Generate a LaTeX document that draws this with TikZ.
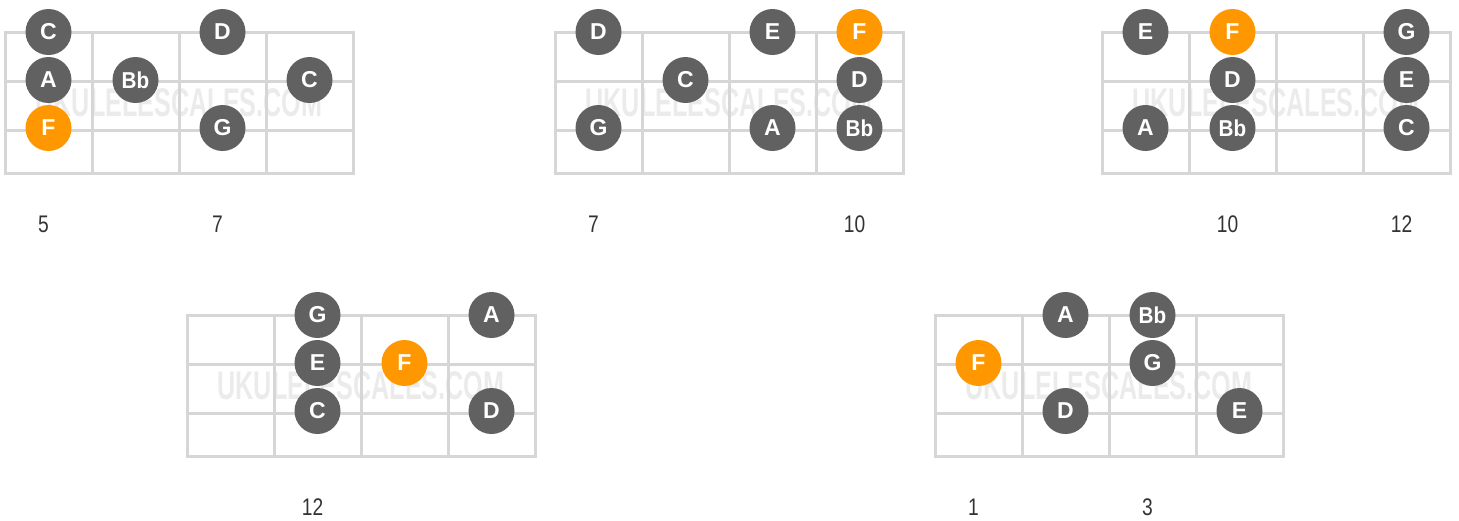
\documentclass[tikz,border=0pt]{standalone}
\usepackage{fontspec}
\setmainfont{Liberation Sans}
\usetikzlibrary{positioning}

\definecolor{notegray}{HTML}{616161}
\definecolor{rootorange}{HTML}{FF9800}
\definecolor{fretgray}{HTML}{D6D6D6}
\definecolor{markgray}{HTML}{EBEBEB}
\definecolor{labelgray}{HTML}{333333}

% one empty fretboard: 4 strings, 4 frets
\newcommand{\fretgrid}{%
	\node[watermark] at (174,71) {\scalebox{0.63}[1]{UKULELESCALES.COM}};
	\foreach \sy in {0,49,98,141}
		\draw[fretline] (0,\sy) -- (348,\sy);
	\foreach \sx in {0,87,174,261,348}
		\draw[fretline] (\sx,0) -- (\sx,141);
}

\begin{document}
\begin{tikzpicture}[
			x=1pt,y=-1pt,
			fretline/.style={draw=fretgray,line width=3pt,line cap=rect},
			watermark/.style={
				text=markgray,
				font=\bfseries\fontsize{40}{40}\selectfont,
				inner sep=0pt
			},
			note/.style={
				circle,
				fill=notegray,
				text=white,
				minimum size=46pt,
				inner sep=0pt,
				font=\bfseries\fontsize{23}{23}\selectfont
			},
			root/.style={note,fill=rootorange},
			fretnum/.style={
				text=labelgray,
				inner sep=0pt,
				font=\fontsize{24}{24}\selectfont
			}
			]
			
			\useasboundingbox (0,0) rectangle (1459,520);
			
			% position 1
			\begin{scope}[shift={(5,32)}]
				\fretgrid
				\node[note] (p1C) at (43.5,0) {C};
				\node[note] (p1A) at (43.5,48) {A};
				\node[root] (p1F) at (43.5,96) {F};
				\node[note] (p1Bb) at (130.5,48) {\scalebox{0.9}[1]{Bb}};
				\node[note] (p1D) at (217.5,0) {D};
				\node[note] (p1G) at (217.5,96) {G};
				\node[note] (p1Ch) at (304.5,48) {C};
				\node[fretnum] (p1five) at (38.5,192) {\scalebox{0.8}[1]{5}};
				\node[fretnum] (p1seven) at (212.5,192) {\scalebox{0.8}[1]{7}};
			\end{scope}
			
			% position 2
			\begin{scope}[shift={(555,32)}]
				\fretgrid
				\node[note] (p2D) at (43.5,0) {D};
				\node[note] (p2G) at (43.5,96) {G};
				\node[note] (p2C) at (130.5,48) {C};
				\node[note] (p2E) at (217.5,0) {E};
				\node[note] (p2A) at (217.5,96) {A};
				\node[root] (p2F) at (304.5,0) {F};
				\node[note] (p2Dh) at (304.5,48) {D};
				\node[note] (p2Bb) at (304.5,96) {\scalebox{0.9}[1]{Bb}};
				\node[fretnum] (p2seven) at (38.5,192) {\scalebox{0.8}[1]{7}};
				\node[fretnum] (p2ten) at (299.5,192) {\scalebox{0.8}[1]{10}};
			\end{scope}
			
			% position 3
			\begin{scope}[shift={(1102,32)}]
				\fretgrid
				\node[note] (p3E) at (43.5,0) {E};
				\node[note] (p3A) at (43.5,96) {A};
				\node[root] (p3F) at (130.5,0) {F};
				\node[note] (p3D) at (130.5,48) {D};
				\node[note] (p3Bb) at (130.5,96) {\scalebox{0.9}[1]{Bb}};
				\node[note] (p3G) at (304.5,0) {G};
				\node[note] (p3Eh) at (304.5,48) {E};
				\node[note] (p3C) at (304.5,96) {C};
				\node[fretnum] (p3ten) at (125.5,192) {\scalebox{0.8}[1]{10}};
				\node[fretnum] (p3twelve) at (299.5,192) {\scalebox{0.8}[1]{12}};
			\end{scope}
			
			% position 4
			\begin{scope}[shift={(187,315)}]
				\fretgrid
				\node[note] (p4G) at (130.5,0) {G};
				\node[note] (p4E) at (130.5,48) {E};
				\node[note] (p4C) at (130.5,96) {C};
				\node[root] (p4F) at (217.5,48) {F};
				\node[note] (p4A) at (304.5,0) {A};
				\node[note] (p4D) at (304.5,96) {D};
				\node[fretnum] (p4twelve) at (125.5,192) {\scalebox{0.8}[1]{12}};
			\end{scope}
			
			% position 5
			\begin{scope}[shift={(935,315)}]
				\fretgrid
				\node[root] (p5F) at (43.5,48) {F};
				\node[note] (p5A) at (130.5,0) {A};
				\node[note] (p5D) at (130.5,96) {D};
				\node[note] (p5Bb) at (217.5,0) {\scalebox{0.9}[1]{Bb}};
				\node[note] (p5G) at (217.5,48) {G};
				\node[note] (p5E) at (304.5,96) {E};
				\node[fretnum] (p5one) at (38.5,192) {\scalebox{0.8}[1]{1}};
				\node[fretnum] (p5three) at (212.5,192) {\scalebox{0.8}[1]{3}};
			\end{scope}
			
		\end{tikzpicture}
\end{document}
